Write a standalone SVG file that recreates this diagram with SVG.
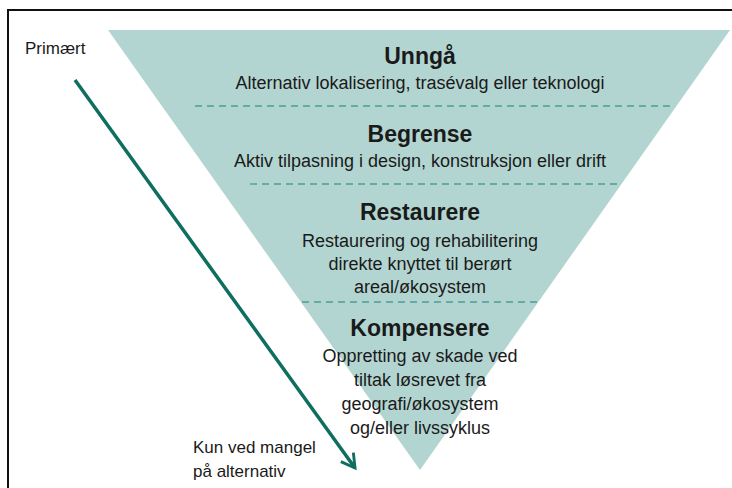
<svg xmlns="http://www.w3.org/2000/svg" width="732" height="488" viewBox="0 0 732 488">
  <defs>
    <style>
      text { font-family: "Liberation Sans", Arial, sans-serif; fill: #1a1a1a; }
      .h { font-size: 23px; font-weight: bold; text-anchor: middle; }
      .d { font-size: 18px; text-anchor: middle; }
      .l { font-size: 17px; }
      .sep { stroke: #4f9e95; stroke-width: 1.3; stroke-dasharray: 7 5; fill: none; }
    </style>
    <marker id="ah" viewBox="0 0 10 10" refX="8" refY="5" markerWidth="5.5" markerHeight="5.5" orient="auto" markerUnits="strokeWidth">
      <path d="M1,1 L8,5 L1,9" fill="none" stroke="#0e6e5f" stroke-width="1.5"/>
    </marker>
  </defs>
  <rect x="0" y="0" width="732" height="488" fill="#ffffff"/>
  <path d="M8,490 L8,10 L734,10" fill="none" stroke="#111" stroke-width="2"/>

  <g id="pyramid">
    <polygon points="108,30 730,30 420,470" fill="#b3d5d1"/>
  </g>

  <g id="separators">
    <line class="sep" x1="195" y1="106" x2="672" y2="106"/>
    <line class="sep" x1="250" y1="184" x2="620" y2="184"/>
    <line class="sep" x1="302" y1="302" x2="538" y2="302"/>
  </g>

  <g id="unnga">
    <text class="h" x="420" y="64">Unngå</text>
    <text class="d" x="420" y="89">Alternativ lokalisering, trasévalg eller teknologi</text>
  </g>
  <g id="begrense">
    <text class="h" x="420" y="142">Begrense</text>
    <text class="d" x="420" y="167">Aktiv tilpasning i design, konstruksjon eller drift</text>
  </g>
  <g id="restaurere">
    <text class="h" x="420" y="220">Restaurere</text>
    <text class="d" x="420" y="247">Restaurering og rehabilitering</text>
    <text class="d" x="420" y="270">direkte knyttet til berørt</text>
    <text class="d" x="420" y="293">areal/økosystem</text>
  </g>
  <g id="kompensere">
    <text class="h" x="420" y="336">Kompensere</text>
    <text class="d" x="420" y="362">Oppretting av skade ved</text>
    <text class="d" x="420" y="386">tiltak løsrevet fra</text>
    <text class="d" x="420" y="410">geografi/økosystem</text>
    <text class="d" x="420" y="434">og/eller livssyklus</text>
  </g>

  <g id="primaert">
    <text class="l" x="25" y="54">Primært</text>
  </g>
  <g id="kun-ved-mangel">
    <text class="l" x="193" y="453">Kun ved mangel</text>
    <text class="l" x="193" y="477">på alternativ</text>
  </g>

  <g id="connectors">
    <line x1="75" y1="80" x2="355" y2="468" stroke="#0e6e5f" stroke-width="3.5" marker-end="url(#ah)"/>
  </g>
</svg>
